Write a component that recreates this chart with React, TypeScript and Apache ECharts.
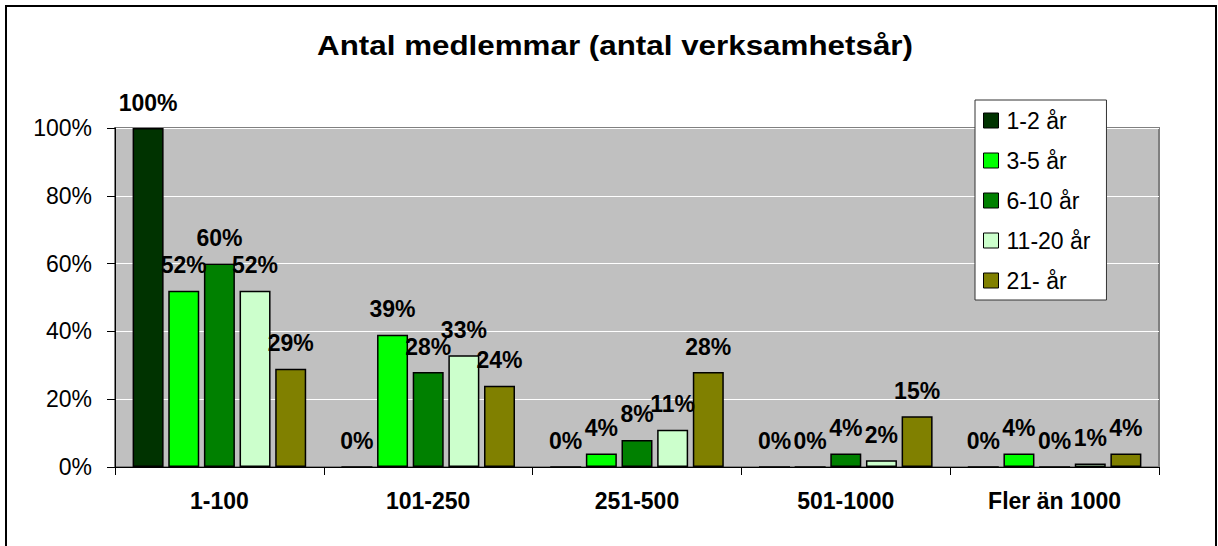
import React, { useEffect, useRef } from "react";
import * as echarts from "echarts";

const categories = ["1-100", "101-250", "251-500", "501-1000", "Fler än 1000"];
const seriesNames = ["1-2 år", "3-5 år", "6-10 år", "11-20 år", "21- år"];
const values12 = [100, 0, 0, 0, 0];
const values35 = [52, 39, 4, 0, 4];
const values610 = [60, 28, 8, 4, 0];
const values1120 = [52, 33, 11, 2, 1];
const values21 = [29, 24, 28, 15, 4];
const seriesValues = [values12, values35, values610, values1120, values21];
const colors = ["#003300", "#00FF00", "#008000", "#CCFFCC", "#808000"];
const yTicks = [0, 20, 40, 60, 80, 100];

const FONT = "'Liberation Sans', Arial, sans-serif";

export default function App() {
  const ref = useRef<HTMLDivElement>(null);
  useEffect(() => {
    if (!ref.current) return;
    const chart = echarts.init(ref.current, null, { renderer: "svg" });
    chart.setOption({
      animation: false,
      textStyle: { fontFamily: FONT, color: "#000" },
      graphic: [
        {
          type: "rect",
          shape: { x: 6, y: 6, width: 1210, height: 560 },
          style: { fill: "none", stroke: "#000", lineWidth: 2 },
          z: 100,
        },
        {
          type: "text",
          x: 615,
          y: 45,
          scaleX: 1.12,
          style: {
            x: 0,
            y: 0,
            text: "Antal medlemmar (antal verksamhetsår)",
            font: `bold 28px ${FONT}`,
            fill: "#000",
            textAlign: "center",
            textVerticalAlign: "middle",
          },
        },
      ],
      legend: {
        orient: "vertical",
        left: 975,
        top: 100,
        data: seriesNames,
        icon: "rect",
        itemWidth: 15,
        itemHeight: 15,
        itemGap: 17,
        padding: [9, 16, 8, 8],
        backgroundColor: "#fff",
        borderColor: "#333",
        borderWidth: 1,
        borderRadius: 0,
        textStyle: { fontFamily: FONT, fontSize: 23, lineHeight: 23, color: "#000", padding: [0, 0, 0, 3] },
        itemStyle: { borderColor: "#000", borderWidth: 1 },
      },
      grid: {
        left: 115,
        right: 59,
        top: 128,
        bottom: 79,
        show: true,
        backgroundColor: "#C0C0C0",
        borderColor: "#808080",
        borderWidth: 2,
      },
      xAxis: {
        type: "category",
        data: categories,
        boundaryGap: true,
        axisLine: { lineStyle: { color: "#000", width: 1 } },
        axisTick: { show: true, length: 8, interval: 0, lineStyle: { color: "#000" } },
        axisLabel: { fontFamily: FONT, fontSize: 23, fontWeight: "bold", color: "#000", margin: 22, interval: 0 },
        splitLine: { show: false },
      },
      yAxis: {
        type: "value",
        min: yTicks[0],
        max: yTicks[yTicks.length - 1],
        interval: 20,
        axisLine: { show: true, lineStyle: { color: "#000", width: 1 } },
        axisTick: { show: true, length: 8, lineStyle: { color: "#000" } },
        axisLabel: { fontFamily: FONT, fontSize: 23, color: "#000", margin: 23, formatter: "{value}%" },
        splitLine: { show: true, lineStyle: { color: "#fff", width: 1 } },
      },
      series: seriesNames.map((name, i) => ({
        name,
        type: "bar",
        data: seriesValues[i],
        barWidth: 31,
        barGap: "15%",
        itemStyle: { color: colors[i], borderColor: "#000", borderWidth: 1.5 },
        label: {
          show: true,
          position: "top",
          distance: 14,
          formatter: "{c}%",
          fontFamily: FONT,
          fontSize: 23,
          fontWeight: "bold",
          color: "#000",
        },
      })),
    });
    return () => chart.dispose();
  }, []);
  return (
    <div
      ref={ref}
      style={{ position: "fixed", left: 0, top: 0, width: 1218, height: 546, background: "#fff" }}
    />
  );
}
